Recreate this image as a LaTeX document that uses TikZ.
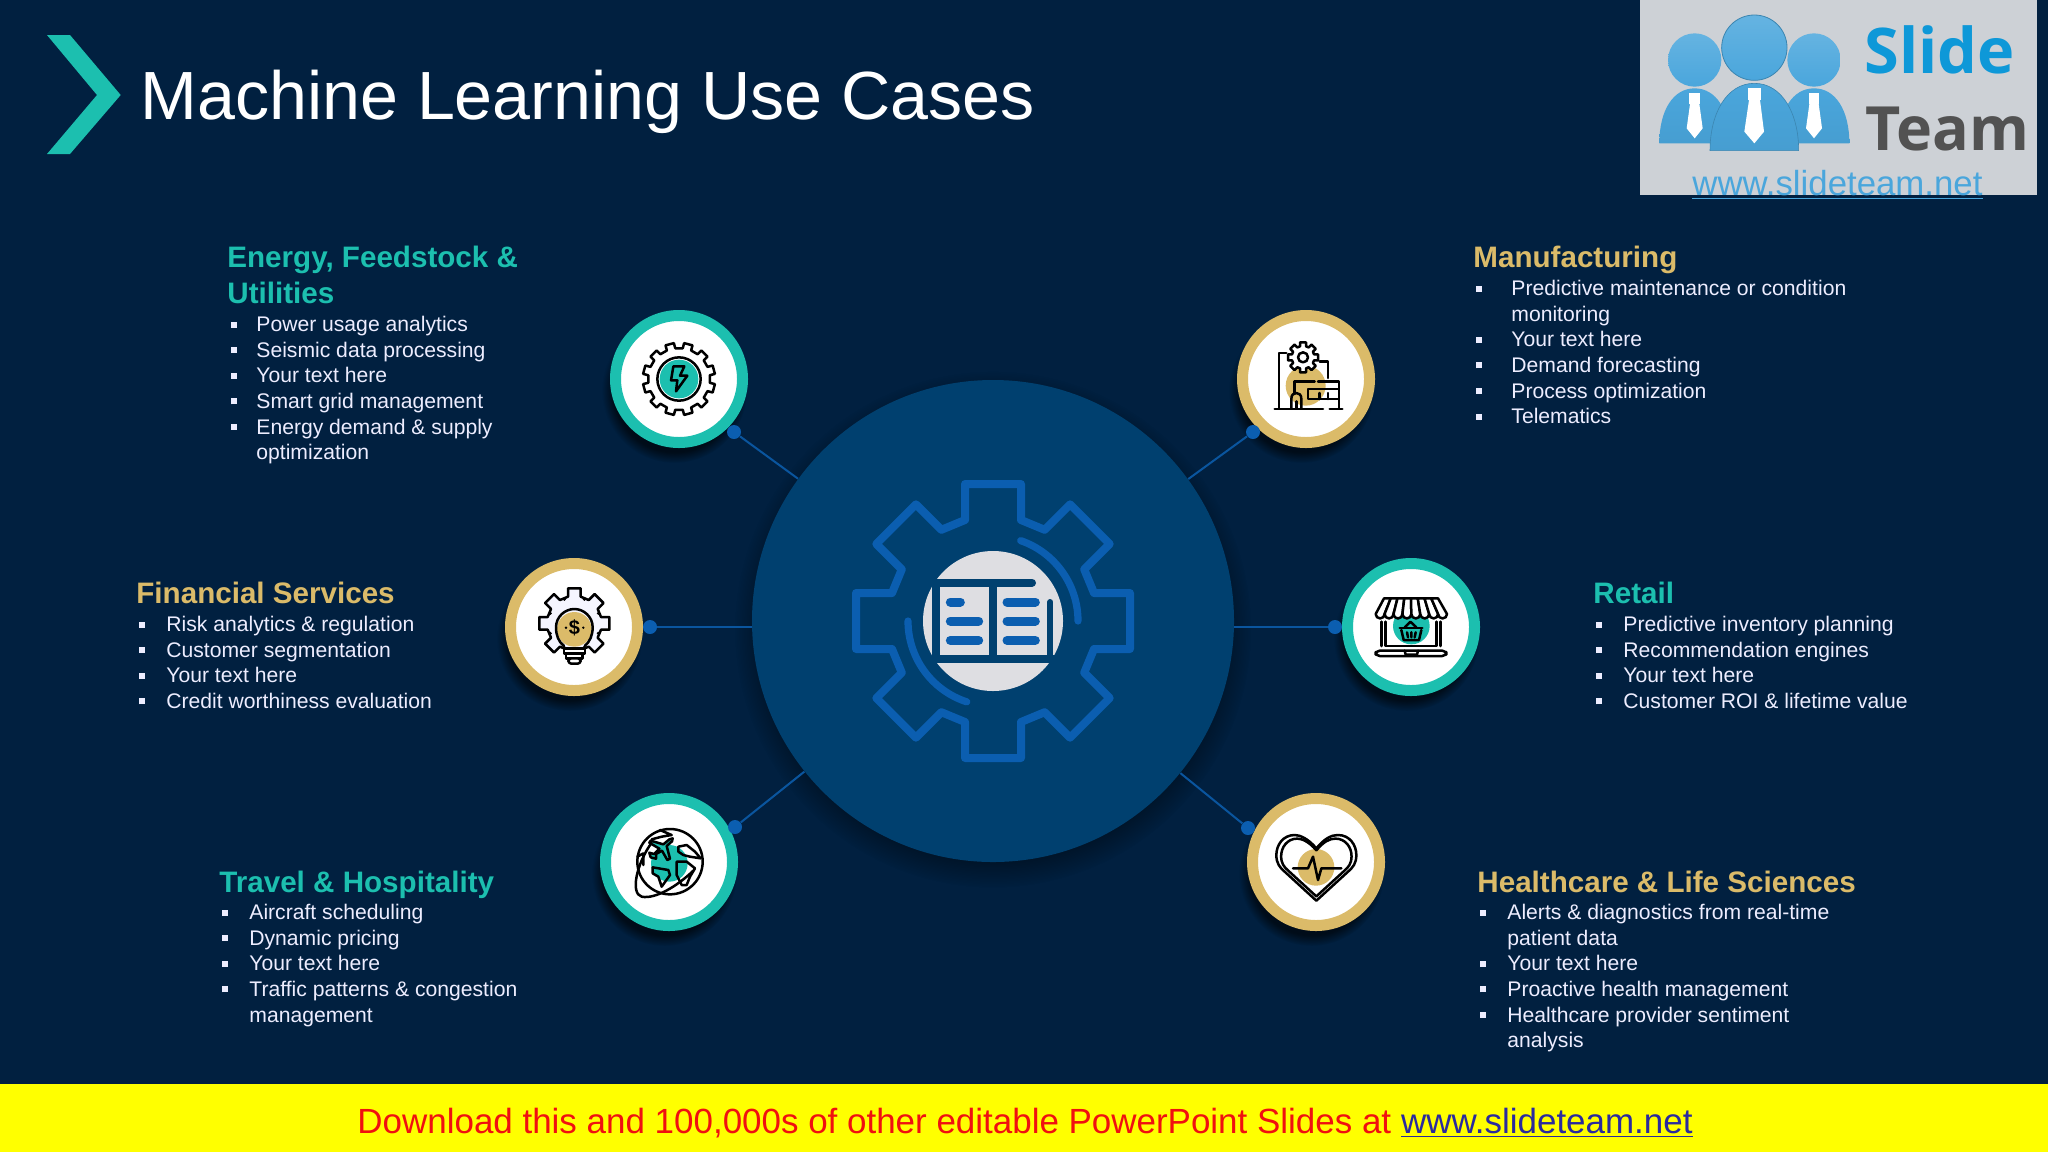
\documentclass[tikz,border=0pt]{standalone}
\usepackage{fontspec}
\setmainfont{Liberation Sans}
\newfontfamily\logofont{Open Sans}
\usetikzlibrary{shadows}
\definecolor{slidebg}{HTML}{012040}
\definecolor{hubblue}{HTML}{00406F}
\definecolor{gearblue}{HTML}{0B5EB0}
\definecolor{tealring}{HTML}{1CBFAF}
\definecolor{goldring}{HTML}{DBBB69}
\definecolor{bookgrey}{HTML}{DEDEE2}
\definecolor{logogrey}{HTML}{CDD1D6}
\definecolor{logoblue}{HTML}{4AA6DC}
\definecolor{logoslide}{HTML}{0E98D8}
\definecolor{barred}{HTML}{F01010}
\definecolor{barlink}{HTML}{2A2A9E}
\definecolor{baryellow}{rgb}{1,1,0}
\newcommand\bulgap{12pt}
\newcommand\bitem[1]{\makebox[\bulgap][l]{\hspace*{-.5pt}\rule[2.1pt]{3pt}{3pt}}#1}
\newcommand\bcont[1]{\hspace*{\bulgap}#1}
\newcommand\cog[8]{\draw[#1] ([shift={(#2,#3)},rotate=#5]#7,#6)
  \foreach \k [evaluate=\k as \a using #5+(\k-1)*360/#4] in {1,...,#4}{
    -- ([shift={(#2,#3)},rotate=\a]#7,#6) -- ([shift={(#2,#3)},rotate=\a]#8,#6)
    -- ([shift={(#2,#3)},rotate=\a]#8,-#6) -- ([shift={(#2,#3)},rotate=\a]#7,-#6)} -- cycle;}
\tikzset{
  hubdisc/.style={circle,fill=hubblue,minimum size=241pt,inner sep=0,
    circular drop shadow={shadow xshift=0pt,shadow yshift=-4pt,shadow scale=1.07,opacity=.5,fill=black}},
  ringbase/.style={circle,fill=white,line width=5.5pt,minimum size=63.5pt,inner sep=0,
    circular drop shadow={shadow xshift=-2pt,shadow yshift=-5pt,shadow scale=1.14,opacity=.6,fill=black}},
  ringteal/.style={ringbase,draw=tealring},
  ringgold/.style={ringbase,draw=goldring},
  linkdot/.style={circle,fill=gearblue,minimum size=7pt,inner sep=0},
  linkline/.style={draw=gearblue!90!black,line width=1pt},
  headtext/.style={anchor=north west,inner sep=0,align=left,
    font=\fontsize{14.8}{18}\selectfont\bfseries},
  itembody/.style={anchor=north west,inner sep=0,align=left,text=white!93!blue,
    font=\fontsize{10.57}{12.8}\selectfont},
  itemgap/.code={\def\bulgap{#1}},
  iconline/.style={draw=black,line width=1.25pt,line cap=round,line join=round},
  gearline/.style={draw=gearblue,line width=4pt,line join=round},
  zoomat/.style n args={3}{shift={(#1)},scale=1/3,shift={(-#2,-#3)}}
}
\begin{document}
\begin{tikzpicture}[x=.5pt,y=-.5pt]
\fill[slidebg] (0,0) rectangle (2048,1152);
\useasboundingbox (0,0) rectangle (2048,1152);

\fill[tealring] (47,35) -- (70,35) -- (120.7,95) -- (70,154) -- (47,154) -- (97,95) -- cycle;
\node[anchor=base west,inner sep=0,text=white,font=\fontsize{34.1}{40}\selectfont] (title) at (140,119) {Machine Learning Use Cases};

\node[hubdisc] (hub) at (993,621) {};
\node[ringteal] (energy) at (679,379) {};
\node[ringgold] (manu) at (1306,379) {};
\node[ringgold] (fin) at (574,627) {};
\node[ringteal] (retail) at (1411,627) {};
\node[ringteal] (travel) at (669,862) {};
\node[ringgold] (health) at (1316,862) {};

\node[linkdot] (energydot) at (734,432) {};
\node[linkdot] (manudot) at (1253,432) {};
\node[linkdot] (findot) at (650,627) {};
\node[linkdot] (retaildot) at (1335,627) {};
\node[linkdot] (traveldot) at (735,827) {};
\node[linkdot] (healthdot) at (1248,828) {};
\foreach \n in {energy,manu,travel,health}
  \draw[linkline] (hub) -- (\n dot);
\draw[linkline] (findot) -- (findot -| hub.west);
\draw[linkline] (retaildot) -- (retaildot -| hub.east);

\begin{scope}[zoomat={hub.center}{758}{752}]
\cog{gearline}{758}{752}{8}{0}{84}{303}{411}
\fill[bookgrey] (758,752) circle (210);
\draw[gearblue,line width=3.6pt,line cap=round] (758,752) ++(-71:255) arc[start angle=-71,end angle=0,radius=255];
\draw[gearblue,line width=3.6pt,line cap=round] (758,752) ++(180:255) arc[start angle=180,end angle=108,radius=255];
\draw[hubblue,line width=4pt,line cap=round] (875,637) -- (588,637) -- (588,866) -- (945,866);
\draw[hubblue,line width=4pt] (757,637) -- (757,866);
\draw[hubblue,line width=3pt,line cap=round] (930,695) -- (930,866);
\foreach \ya/\xa in {695/660,752/715,810/715} {
  \draw[gearblue,line width=4.5pt,line cap=round] (630,\ya) -- (\xa,\ya);
  \draw[gearblue,line width=4.5pt,line cap=round] (800,\ya) -- (885,\ya);
}
\end{scope}

\begin{scope}[zoomat={energy.center}{267}{268}]
\cog{iconline}{267}{268}{12}{15}{13}{92}{108}
\fill[tealring] (267,268) circle (58);
\draw[iconline] (267,268) circle (65);
\draw[iconline] (250,230) -- (283,230) -- (270,258) -- (292,258) -- (258,305) -- (262,272) -- (243,272) -- cycle;
\end{scope}

\begin{scope}[zoomat={manu.center}{259}{268}]
\fill[goldring] (258,288) circle (60);
\cog{iconline,fill=white}{250}{203}{8}{0}{9}{33}{45}
\draw[iconline] (250,203) circle (15);
\draw[iconline] (200,190) -- (178,190) -- (178,355);
\draw[iconline] (300,215) -- (325,215) -- (325,265);
\draw[iconline] (165,358) -- (310,358) (330,358) -- (368,358);
\draw[iconline] (225,310) -- (225,275) -- (285,275) (295,275) -- (358,275) -- (358,355);
\draw[iconline] (265,298) rectangle (358,328);
\draw[iconline] (300,310) -- (300,328) (325,310) -- (325,328);
\draw[iconline] (215,355) -- (215,328) .. controls (215,315) and (222,310) .. (230,310) .. controls (238,310) and (245,315) .. (245,328) -- (245,355);
\draw[iconline] (230,355) -- (230,335);
\end{scope}

\begin{scope}[zoomat={fin.center}{252}{261}]
\cog{iconline,fill=white!96!blue}{253}{250}{8}{0}{19}{80}{105}
\foreach \a in {0,45,90,135,180,225,270,315}
  \fill (253,250) ++(\a+22.5:78) circle (5);
\fill[goldring] (253,268) circle (52);
\draw[iconline] (222,318) .. controls (205,305) and (198,285) .. (198,262) .. controls (198,230) and (225,207) .. (253,207) .. controls (281,207) and (308,230) .. (308,262) .. controls (308,285) and (300,305) .. (284,318);
\draw[iconline,fill=white] (222,325) rectangle (285,340);
\draw[iconline,fill=white] (228,340) rectangle (278,355);
\draw[iconline,fill=white,rounded corners=1.5pt] (235,355) rectangle (272,371);
\node[inner sep=0,font=\fontsize{10}{10}\selectfont\bfseries] (findollar) at (253,263) {\$};
\fill (228,263) circle (4) (280,263) circle (4);
\end{scope}

\begin{scope}[zoomat={retail.center}{274}{261}]
\fill[tealring] (275,258) circle (55);
\draw[iconline] (185,245) -- (185,318) (197,245) -- (197,318) -- (350,318) -- (350,245) (362,245) -- (362,318);
\draw[iconline,rounded corners=2pt] (168,332) rectangle (380,348);
\draw[iconline] (255,332) -- (258,344) -- (292,344) -- (295,332);
\foreach \i in {0,...,7}
  \draw[iconline,fill=white] ({193+\i*20.25},175) -- ({168+\i*26.75},222) arc[start angle=180,end angle=0,radius=13.37] -- ({213.25+\i*20.25},175) -- cycle;
\draw[iconline] (255,262) -- (272,245) -- (290,262);
\draw[iconline] (240,264) -- (308,264);
\draw[iconline] (245,270) -- (252,300) -- (298,300) -- (305,270);
\draw[iconline] (262,277) -- (265,292) (275,277) -- (275,292) (288,277) -- (285,292);
\end{scope}

\begin{scope}[zoomat={travel.center}{267}{246}]
\fill[tealring] (268,250) circle (55);
\draw[iconline] (270,245) circle (98);
\draw[iconline] (215,188) .. controls (170,250) and (150,340) .. (185,350) .. controls (225,358) and (290,320) .. (340,272);
\draw[iconline] (290,245) -- (320,245) -- (345,265) -- (330,290) -- (320,315) -- (305,315) -- (290,285) -- cycle;
\draw[iconline] (218,262) -- (265,270) -- (270,285) -- (245,320) -- (235,290) -- (218,280) -- cycle;
\draw[iconline] (295,200) -- (320,195) -- (345,215) -- (362,235) -- (330,230) -- (310,225) -- (295,215) -- cycle;
\draw[iconline] (240,150) -- (275,165) -- (245,170) -- (215,178);
\draw[iconline] (172,230) -- (190,220) -- (190,255);
\draw[iconline,fill=tealring] (278,175) -- (268,178) -- (250,193) -- (212,182) -- (208,188) -- (238,206) -- (222,222) -- (208,218) -- (212,232) -- (228,236) -- (228,222) -- (246,212) -- (262,240) -- (270,236) -- (260,198) -- (276,184) -- cycle;
\end{scope}

\begin{scope}[zoomat={health.center}{259}{246}]
\fill[goldring] (259,262) circle (55);
\foreach \s in {1,.88} {
  \begin{scope}[shift={(260,255)},scale=\s,shift={(-260,-255)}]
  \draw[iconline] (260,205) .. controls (235,175) and (210,165) .. (195,165) .. controls (160,165) and (140,195) .. (140,225) .. controls (140,250) and (150,262) .. (165,275) -- (260,362) -- (355,275) .. controls (370,262) and (380,250) .. (380,225) .. controls (380,195) and (360,165) .. (325,165) .. controls (305,165) and (285,175) .. (260,205);
  \end{scope}
}
\draw[iconline] (190,265) -- (235,265) -- (250,230) -- (265,300) -- (275,265) -- (335,265);
\end{scope}

\node[headtext,text=tealring] (energyhead) at (227,246) {Energy, Feedstock \&\\Utilities};
\node[itembody,itemgap=12pt] (energybody) at (232,316) {\bitem{Power usage analytics}\\\bitem{Seismic data processing}\\\bitem{Your text here}\\\bitem{Smart grid management}\\\bitem{Energy demand \& supply}\\\bcont{optimization}};

\node[headtext,text=goldring] (finhead) at (136,582) {Financial Services};
\node[itembody,itemgap=13pt] (finbody) at (140,616) {\bitem{Risk analytics \& regulation}\\\bitem{Customer segmentation}\\\bitem{Your text here}\\\bitem{Credit worthiness evaluation}};

\node[headtext,text=tealring] (travelhead) at (219,871) {Travel \& Hospitality};
\node[itembody,itemgap=13pt] (travelbody) at (223,904) {\bitem{Aircraft scheduling}\\\bitem{Dynamic pricing}\\\bitem{Your text here}\\\bitem{Traffic patterns \& congestion}\\\bcont{management}};

\node[headtext,text=goldring] (manuhead) at (1473,246) {Manufacturing};
\node[itembody,itemgap=17pt] (manubody) at (1477,280) {\bitem{Predictive maintenance or condition}\\\bcont{monitoring}\\\bitem{Your text here}\\\bitem{Demand forecasting}\\\bitem{Process optimization}\\\bitem{Telematics}};

\node[headtext,text=tealring] (retailhead) at (1593,582) {Retail};
\node[itembody,itemgap=13pt] (retailbody) at (1597,616) {\bitem{Predictive inventory planning}\\\bitem{Recommendation engines}\\\bitem{Your text here}\\\bitem{Customer ROI \& lifetime value}};

\node[headtext,text=goldring] (healthhead) at (1477,871) {Healthcare \& Life Sciences};
\node[itembody,itemgap=13pt] (healthbody) at (1481,904) {\bitem{Alerts \& diagnostics from real-time}\\\bcont{patient data}\\\bitem{Your text here}\\\bitem{Proactive health management}\\\bitem{Healthcare provider sentiment}\\\bcont{analysis}};

\fill[logogrey] (1640,0) rectangle (2037,195);
\begin{scope}[zoomat={1600,0}{0}{0}]
\foreach \dx in {0,358} {
  \begin{scope}[shift={(\dx,0)}]
  \path[top color=logoblue,bottom color=logoblue!95!black] (178,430) .. controls (178,330) and (220,265) .. (284,265) .. controls (348,265) and (390,330) .. (390,430) -- cycle;
  \fill[white] (268,280) rectangle (300,312);
  \fill[white] (270,312) -- (298,312) -- (308,385) -- (284,415) -- (260,385) -- cycle;
  \shade[top color=logoblue!85!white,bottom color=logoblue] (284,180) circle (80);
  \end{scope}
}
\path[top color=logoblue,bottom color=logoblue!95!black,draw=logoblue!80!black,line width=.3pt] (330,452) .. controls (330,340) and (380,250) .. (463,250) .. controls (546,250) and (596,340) .. (596,452) -- cycle;
\fill[white] (445,265) rectangle (483,300);
\fill[white] (447,300) -- (480,300) -- (492,395) -- (463,430) -- (433,395) -- cycle;
\shade[top color=logoblue!85!white,bottom color=logoblue,draw=logoblue!80!black] (463,143) circle (98);
\end{scope}
\node[anchor=base west,inner sep=0,text=logoslide,font=\logofont\fontsize{31.5}{36}\selectfont\bfseries] (logoslidetext) at (1864,73) {Slide};
\node[anchor=base west,inner sep=0,text=black!68,font=\logofont\fontsize{30.5}{36}\selectfont\bfseries] (logoteam) at (1865,150) {Team};
\node[anchor=base west,inner sep=0,text=logoblue,font=\fontsize{17.4}{20}\selectfont] (logolink) at (1692,195) {\underline{www.slideteam.net}};

\fill[baryellow] (0,1084) rectangle (2048,1152);
\node[anchor=base,inner sep=0,font=\fontsize{17.48}{20}\selectfont] (bartext) at (1025,1133) {\textcolor{barred}{Download this and 100,000s of other editable PowerPoint Slides at }\textcolor{barlink}{\underline{www.slideteam.net}}};
\end{tikzpicture}
\end{document}
